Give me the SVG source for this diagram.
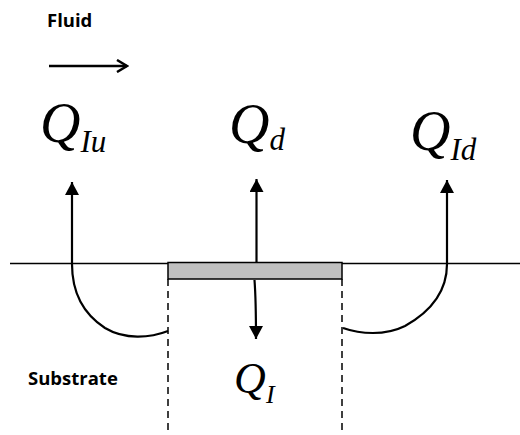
<svg xmlns="http://www.w3.org/2000/svg" width="520" height="435" viewBox="0 0 520 435">
<style>
.lbl{font-family:"Open Sans","Liberation Sans",sans-serif;font-weight:bold;font-size:18.5px;fill:#000}
.q{font-family:"Liberation Serif","Times New Roman",serif;font-style:italic;fill:#000;font-size:56px}
.s{font-family:"Liberation Serif","Times New Roman",serif;font-style:italic;fill:#000;font-size:31px}
.ln{fill:none;stroke:#000;stroke-width:2.2}
.thin{fill:none;stroke:#000;stroke-width:1.3}
.dash{fill:none;stroke:#000;stroke-width:1.5;stroke-dasharray:7,5}
</style>
<defs>
<marker id="ah" markerWidth="14" markerHeight="14" viewBox="0 0 14 14" refX="13" refY="7" orient="auto" markerUnits="userSpaceOnUse">
<path d="M0,0 L13,7 L0,14 Z" fill="#000"/>
</marker>
<marker id="open" markerWidth="14" markerHeight="14" viewBox="0 0 14 14" refX="12" refY="7" orient="auto" markerUnits="userSpaceOnUse">
<path d="M2,1 L12,7 L2,13" fill="none" stroke="#000" stroke-width="2.5"/>
</marker>
</defs>
<g id="surface">
<line class="thin" x1="10" y1="263.5" x2="520" y2="263.5"/>
</g>
<g id="plate">
<rect x="168" y="262.5" width="174" height="16.5" fill="#c0c0c0" stroke="#000" stroke-width="1.5"/>
</g>
<g id="boundaries">
<line class="dash" x1="168" y1="279" x2="168" y2="435"/>
<line class="dash" x1="342" y1="279" x2="342" y2="435"/>
</g>
<g id="fluid">
<text class="lbl" x="47" y="27">Fluid</text>
<line class="ln" x1="49" y1="66" x2="127" y2="66" style="stroke-width:2.5" marker-end="url(#open)"/>
</g>
<g id="substrate">
<text class="lbl" x="28" y="385">Substrate</text>
</g>
<g id="label-Qiu">
<text class="q" x="40" y="142">Q</text>
<text class="s" x="80.5" y="152">Iu</text>
</g>
<g id="label-Qd">
<text class="q" x="229" y="143">Q</text>
<text class="s" x="269.5" y="150">d</text>
</g>
<g id="label-Qid">
<text class="q" x="410" y="150">Q</text>
<text class="s" x="450.5" y="160">Id</text>
</g>
<g id="label-Qi">
<text class="q" x="234" y="393" style="font-size:44px">Q</text>
<text class="s" x="266" y="403" style="font-size:26px">I</text>
</g>
<g id="connectors">
<path class="ln" d="M256.5,262 L256.5,179" marker-end="url(#ah)"/>
<path class="ln" d="M254.5,280 Q256,300 256,339" marker-end="url(#ah)"/>
<path class="ln" d="M168,331 C150,338 125,340 105,328 C85,315 72,295 72,264 L72,182" marker-end="url(#ah)"/>
<path class="ln" d="M343,328 C360,334 385,336 405,326 C430,312 447,292 447,264 L447,180" marker-end="url(#ah)"/>
</g>
</svg>
